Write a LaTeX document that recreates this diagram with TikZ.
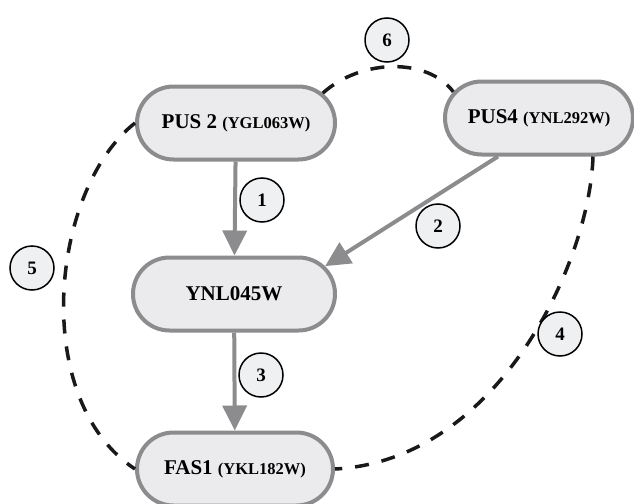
\documentclass[tikz,border=0pt]{standalone}
\usepackage{fontspec}
\setmainfont{Liberation Serif}
\usetikzlibrary{shapes.misc,arrows.meta}
\definecolor{boxfill}{RGB}{235,235,237}
\definecolor{boxline}{RGB}{140,140,142}
\definecolor{numfill}{RGB}{239,240,242}
\tikzset{
  gene/.style={rounded rectangle,draw=boxline,fill=boxfill,line width=4pt,
    minimum width=198pt,minimum height=73pt,inner sep=0pt,
    font=\fontsize{21}{21}\selectfont\bfseries},
  num/.style={circle,draw=black,fill=numfill,line width=1.5pt,
    minimum size=44pt,inner sep=0pt,font=\fontsize{19}{19}\selectfont\bfseries},
  link/.style={draw=boxline,line width=4pt,-{Triangle[width=24pt,length=25pt]}},
  assoc/.style={draw=black!90,line width=3.5pt,dash pattern=on 14pt off 13pt}
}
\newcommand{\orf}[1]{{\fontsize{16.5}{16.5}\selectfont #1}}
\begin{document}
\begin{tikzpicture}[x=1pt,y=-1pt]
\useasboundingbox (0,0) rectangle (634,503);
\node[gene] (pus2) at (236,123) {PUS 2 \orf{(YGL063W)}};
\node[gene,minimum width=188pt] (pus4) at (539,118) {PUS4 \orf{(YNL292W)}};
\node[gene,minimum width=202pt] (ynl) at (234,294) {YNL045W};
\node[gene,minimum width=196pt] (fas1) at (235,469) {FAS1 \orf{(YKL182W)}};
\draw[link] (pus2) -- (ynl);
\draw[link] ([xshift=-41pt]pus4.south) -- (ynl.17);
\draw[link] (ynl) -- (fas1);
\draw[assoc] (pus2.west) .. controls (50,190) and (30,400) .. (fas1.west);
\draw[assoc] ([xshift=54pt]pus4.south) .. controls (590,260) and (500,460) .. (fas1.east);
\draw[assoc] (pus2.19) .. controls (362,58) and (428,58) .. (pus4.163);
\node[num] (n1) at (262,200) {1};
\node[num] (n2) at (438,226) {2};
\node[num] (n3) at (261,375) {3};
\node[num] (n4) at (560,334) {4};
\node[num] (n5) at (32,268) {5};
\node[num] (n6) at (387,40) {6};
\end{tikzpicture}
\end{document}
